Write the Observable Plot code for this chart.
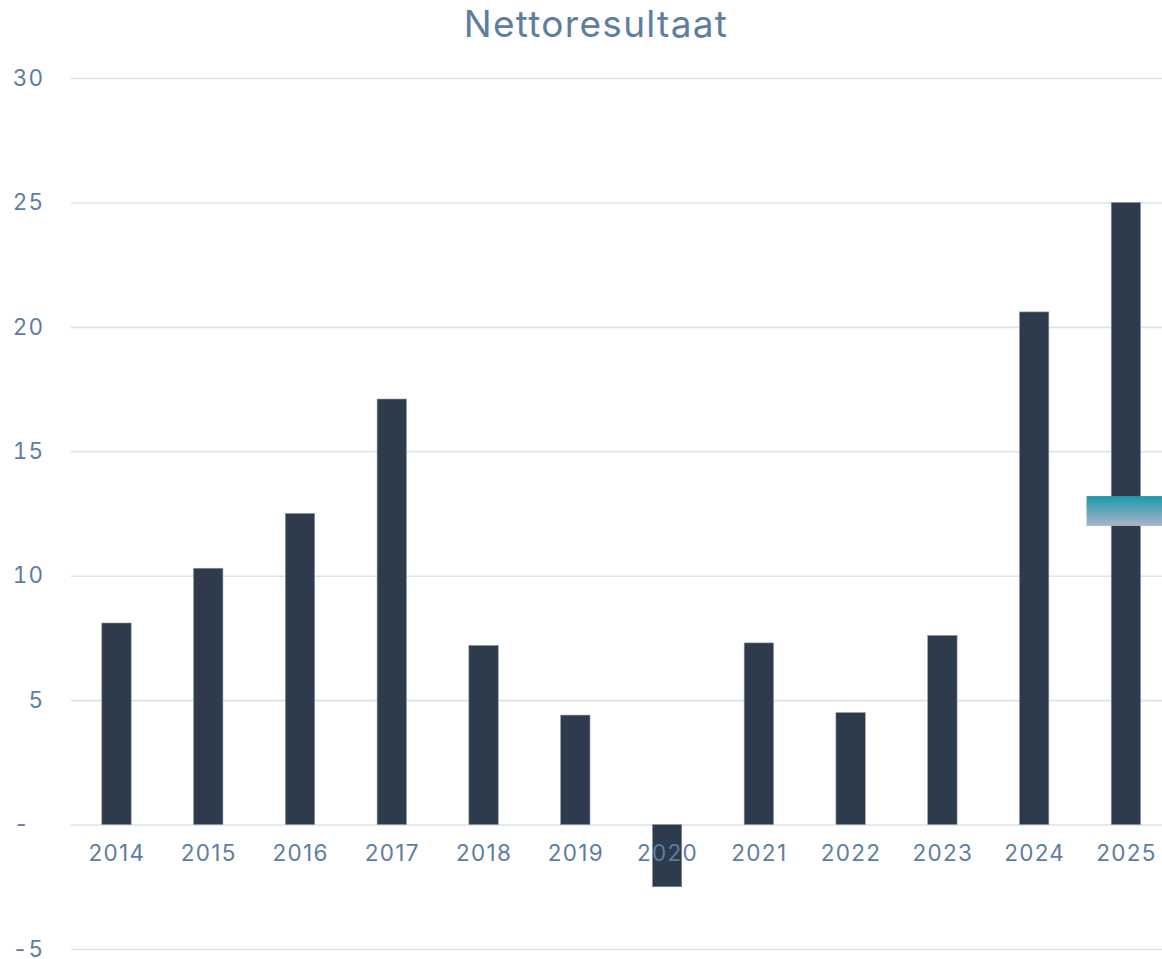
<!DOCTYPE html>
<html>
<head>
<meta charset="utf-8">
<script src="https://cdn.jsdelivr.net/npm/d3@7"></script>
<script src="https://cdn.jsdelivr.net/npm/@observablehq/plot@0.6"></script>
<style>
  html, body { margin: 0; padding: 0; background: #ffffff; overflow: hidden; }
  #title {
    width: 1162px; height: 50px; box-sizing: border-box; padding-left: 30px;
    text-align: center; font-family: Inter, "Open Sans", sans-serif;
    font-size: 37px; line-height: 48px; color: #5e7d9f; letter-spacing: 1.3px;
    font-weight: 400;
  }
  #chart svg text { letter-spacing: 1.3px; }
</style>
</head>
<body>
<div id="title">Nettoresultaat</div>
<div id="chart"></div>
<script>
const years = ["2014","2015","2016","2017","2018","2019","2020","2021","2022","2023","2024","2025"];
const values = [8.1, 10.3, 12.5, 17.1, 7.2, 4.4, -2.5, 7.3, 4.5, 7.6, 20.6, 25.0];
const yTicks = [-5, 0, 5, 10, 15, 20, 25, 30];
const highlightYear = "2025";
const highlightLow = 12.0;
const highlightHigh = 13.2;

const data = years.map((year, i) => ({year, value: values[i]}));
const highlight = [{year: highlightYear, y1: highlightLow, y2: highlightHigh}];

const textColor = "#5e7d9f";

const defsMark = () => {
  const defs = d3.create("svg:defs");
  const g = defs.append("linearGradient").attr("id", "hlgrad")
    .attr("x1", 0).attr("y1", 0).attr("x2", 0).attr("y2", 1);
  g.append("stop").attr("offset", "0%").attr("stop-color", "#1a9aaa");
  g.append("stop").attr("offset", "100%").attr("stop-color", "#adb3c9");
  return defs.node();
};

const chart = Plot.plot({
  width: 1162,
  height: 909,
  marginTop: 28,
  marginBottom: 10,
  marginLeft: 71,
  marginRight: 0,
  style: {fontFamily: "Inter, 'Open Sans', sans-serif", color: textColor, background: "transparent", overflow: "visible"},
  x: {type: "band", domain: years, range: [70.6, 1171.8], paddingInner: 0.68, paddingOuter: 0.34, round: false, axis: null},
  y: {domain: [-5, 30], axis: null},
  marks: [
    defsMark,
    Plot.gridY(yTicks, {stroke: "#dbe3ec", strokeOpacity: 1, strokeWidth: 1.6}),
    Plot.barY(data, {x: "year", y: "value", fill: "#2d3b4c", stroke: "#8f98a5", strokeWidth: 0.6}),
    Plot.barY(highlight, {x: "year", y1: "y1", y2: "y2", fill: "url(#hlgrad)", insetLeft: -24.7, insetRight: -40, clip: "frame"}),
    Plot.axisY(yTicks, {tickFormat: d => d === 0 ? "-\u00a0\u00a0" : String(d), tickSize: 0, tickPadding: 27, fontSize: 22.5, fill: textColor}),
    Plot.text(data, {x: "year", y: () => 0, text: "year", dy: 29, fontSize: 22.5, fill: textColor})
  ]
});
document.getElementById("chart").appendChild(chart);
</script>
</body>
</html>
